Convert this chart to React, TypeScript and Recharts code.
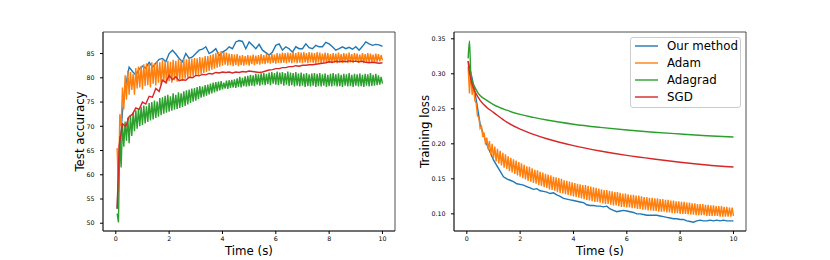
import { LineChart, Line, XAxis, YAxis, ReferenceArea } from 'recharts'

const BLUE = '#1f77b4'
const ORANGE = '#ff7f0e'
const GREEN = '#2ca02c'
const RED = '#d62728'
const FONT = 'DejaVu Sans'

const legendNames = ['Our method', 'Adam', 'Adagrad', 'SGD']
const legendColors = [BLUE, ORANGE, GREEN, RED]

const timeTicks = [0, 2, 4, 6, 8, 10]
const accTicks = [50, 55, 60, 65, 70, 75, 80, 85]
const lossTicks = [0.1, 0.15, 0.2, 0.25, 0.3, 0.35]

// sampling grids (seconds)
const fineT = Array.from({ length: 200 }, (_, i) => (i + 1) * 0.05)
const coarseT = [0.05, ...Array.from({ length: 80 }, (_, i) => (i + 1) * 0.125)]
const lossT = [0.05, 0.1, 0.15, 0.2, 0.3, 0.4, 0.5, 0.75, 1, 1.5, 2, 2.5, 3, 4, 5, 6, 7, 8, 9, 10]

// ---- test accuracy ----
const oursAcc = [
  53.0, 63.0, 73.0, 78.5, 82.2, 81.3, 80.6, 81.8, 82.4, 82.0,
  83.2, 82.2, 83.0, 83.8, 84.0, 83.3, 85.0, 85.7, 84.9, 84.0,
  83.3, 85.0, 84.0, 84.3, 85.0, 85.7, 85.9, 86.4, 85.0, 85.4,
  86.0, 84.6, 85.3, 85.7, 86.4, 86.0, 87.4, 87.7, 87.5, 86.0,
  87.4, 86.7, 86.0, 86.9, 85.7, 85.2, 84.7, 85.3, 86.7, 87.0,
  85.7, 86.4, 86.0, 85.3, 86.4, 86.0, 86.0, 87.0, 86.2, 86.0,
  86.7, 86.4, 86.4, 87.3, 87.0, 86.4, 85.7, 86.0, 86.4, 86.0,
  86.3, 85.9, 86.4, 85.7, 86.5, 87.4, 87.0, 86.7, 86.9, 86.8,
  86.5,
]
const sgdAcc = [
  53.0, 66.0, 70.5, 70.0, 72.0, 72.5, 73.8, 73.5, 75.0, 74.6,
  76.2, 76.0, 77.8, 77.2, 79.5, 79.0, 80.5, 79.6, 80.2, 79.4,
  79.6, 79.5, 80.1, 80.0, 80.5, 80.4, 80.7, 80.6, 80.9, 80.8,
  81.1, 81.0, 81.2, 81.1, 81.2, 81.0, 81.2, 81.1, 81.3, 81.2,
  81.4, 81.3, 81.2, 81.1, 81.2, 81.4, 81.6, 81.7, 81.9, 81.9,
  82.1, 82.1, 82.3, 82.3, 82.5, 82.4, 82.6, 82.6, 82.7, 82.7,
  82.8, 82.9, 83.0, 83.1, 83.3, 83.2, 83.4, 83.3, 83.4, 83.3,
  83.5, 83.4, 83.4, 83.3, 83.4, 83.2, 83.1, 83.2, 83.1, 83.0,
  83.1,
]
const adamAccPeaks = [
  65.5, 72.5, 78.0, 80.5, 81.5, 81.2, 80.8, 82.0, 82.3, 82.5,
  82.8, 83.0, 82.9, 83.2, 83.0, 83.4, 83.2, 83.6, 83.4, 83.5,
  83.3, 83.7, 83.5, 83.8, 83.6, 83.9, 83.8, 84.0, 83.9, 84.1,
  84.0, 84.3, 84.2, 84.5, 84.5, 84.7, 84.9, 85.1, 85.3, 85.5,
  85.3, 85.2, 85.0, 84.9, 84.8, 84.9, 84.6, 84.7, 84.5, 84.7,
  84.6, 84.8, 84.6, 84.7, 84.9, 84.7, 84.9, 84.8, 85.0, 84.8,
  85.1, 85.0, 85.2, 85.1, 85.2, 85.1, 85.3, 85.1, 85.3, 85.2,
  85.3, 85.1, 85.3, 85.2, 85.1, 85.3, 85.2, 85.0, 85.2, 85.1,
  84.9, 85.1, 85.0, 85.2, 84.9, 85.1, 85.0, 85.2, 84.9, 85.1,
  85.0, 84.8, 85.1, 84.9, 85.1, 85.0, 84.8, 85.0, 84.9, 84.7,
]
const adamAccDips = [
  56.5, 70.0, 73.5, 75.5, 76.5, 77.5, 76.5, 77.8, 78.0, 77.6,
  78.3, 78.5, 78.0, 78.8, 78.4, 79.0, 78.6, 79.2, 78.8, 79.3,
  79.0, 79.5, 79.2, 79.6, 79.4, 79.8, 80.0, 80.1, 80.3, 80.4,
  80.6, 80.8, 81.0, 81.2, 81.4, 81.7, 81.9, 82.1, 82.3, 82.5,
  82.7, 82.5, 82.6, 82.4, 82.6, 82.4, 82.6, 82.5, 82.7, 82.5,
  82.8, 82.6, 82.8, 82.7, 82.9, 82.8, 83.0, 82.9, 83.1, 82.9,
  83.1, 83.0, 83.1, 83.0, 83.2, 83.0, 83.2, 83.0, 83.1, 83.0,
  83.2, 83.0, 83.2, 83.1, 82.9, 83.1, 83.0, 83.2, 83.0, 83.1,
  83.0, 83.2, 83.0, 83.2, 83.1, 83.3, 83.0, 83.2, 83.1, 83.3,
  83.1, 83.3, 83.0, 83.2, 83.1, 83.3, 83.1, 83.3, 83.4, 83.6,
]
const adagradAccPeaks = [
  52.0, 68.0, 70.5, 71.0, 71.8, 72.2, 72.8, 73.3, 73.6, 74.0,
  74.3, 74.1, 74.8, 75.0, 75.3, 75.1, 75.8, 76.0, 76.3, 76.5,
  76.2, 76.8, 76.5, 77.0, 76.8, 77.2, 77.4, 77.6, 77.8, 77.9,
  78.1, 78.3, 78.2, 78.5, 78.6, 78.8, 79.0, 79.1, 79.2, 79.3,
  79.0, 79.4, 79.5, 79.6, 79.7, 79.9, 80.2, 80.0, 80.3, 80.4,
  80.6, 80.5, 80.8, 80.7, 80.9, 81.0, 80.8, 81.1, 81.2, 81.0,
  81.3, 81.1, 81.2, 81.0, 81.3, 81.1, 81.0, 81.2, 80.9, 81.1,
  80.8, 81.0, 80.7, 80.9, 81.0, 80.8, 81.0, 80.7, 80.9, 80.6,
  80.8, 81.0, 80.7, 80.9, 80.6, 80.8, 80.7, 81.0, 80.6, 80.8,
  80.7, 80.9, 80.6, 80.8, 80.7, 81.0, 80.6, 80.8, 80.5, 80.2,
]
const adagradAccDips = [
  50.2, 61.5, 65.8, 67.0, 66.5, 68.0, 69.0, 69.5, 70.0, 70.3,
  70.6, 70.9, 71.2, 71.4, 71.7, 72.0, 72.3, 72.6, 72.8, 73.0,
  73.2, 73.4, 73.6, 73.8, 74.0, 74.2, 74.5, 74.8, 75.1, 75.3,
  75.6, 75.9, 76.1, 76.3, 76.6, 76.8, 77.0, 77.2, 77.4, 77.6,
  77.8, 77.7, 77.9, 78.0, 77.9, 78.1, 78.0, 78.3, 78.2, 78.3,
  78.4, 78.3, 78.6, 78.4, 78.6, 78.5, 78.7, 78.5, 78.8, 78.6,
  78.5, 78.7, 78.4, 78.6, 78.3, 78.5, 78.2, 78.4, 78.2, 78.4,
  78.1, 78.3, 78.2, 78.4, 78.1, 78.3, 78.2, 78.4, 78.1, 78.3,
  78.2, 78.4, 78.2, 78.3, 78.1, 78.4, 78.2, 78.3, 78.1, 78.4,
  78.2, 78.3, 78.1, 78.4, 78.2, 78.3, 78.4, 78.5, 78.6, 78.8,
]

// ---- training loss ----
const oursLoss = [
  0.318, 0.306, 0.285, 0.258, 0.228, 0.213, 0.199, 0.188, 0.177, 0.169,
  0.161, 0.153, 0.150, 0.148, 0.146, 0.143, 0.142, 0.141, 0.139, 0.137,
  0.135, 0.136, 0.133, 0.132, 0.131, 0.129, 0.130, 0.127, 0.125, 0.122,
  0.121, 0.120, 0.119, 0.118, 0.117, 0.116, 0.113, 0.112, 0.112, 0.111,
  0.111, 0.110, 0.111, 0.107, 0.105, 0.103, 0.104, 0.105, 0.104, 0.103,
  0.102, 0.100, 0.100, 0.099, 0.098, 0.098, 0.098, 0.098, 0.097, 0.096,
  0.095, 0.094, 0.093, 0.093, 0.092, 0.092, 0.090, 0.089, 0.088, 0.090,
  0.091, 0.090, 0.090, 0.091, 0.090, 0.091, 0.090, 0.091, 0.090, 0.090,
  0.090,
]
const adamLossPeaks = [
  0.310, 0.302, 0.285, 0.258, 0.238, 0.225, 0.216, 0.209, 0.204, 0.200,
  0.196, 0.193, 0.190, 0.187, 0.185, 0.182, 0.180, 0.178, 0.176, 0.174,
  0.172, 0.170, 0.168, 0.167, 0.165, 0.163, 0.162, 0.160, 0.159, 0.157,
  0.156, 0.155, 0.153, 0.152, 0.151, 0.150, 0.148, 0.147, 0.146, 0.145,
  0.144, 0.143, 0.142, 0.141, 0.141, 0.140, 0.139, 0.138, 0.137, 0.136,
  0.135, 0.134, 0.134, 0.133, 0.132, 0.131, 0.131, 0.130, 0.129, 0.129,
  0.128, 0.127, 0.127, 0.126, 0.126, 0.125, 0.124, 0.124, 0.123, 0.123,
  0.122, 0.122, 0.121, 0.121, 0.120, 0.120, 0.119, 0.119, 0.118, 0.118,
  0.117, 0.117, 0.116, 0.116, 0.115, 0.115, 0.114, 0.114, 0.114, 0.113,
  0.113, 0.112, 0.112, 0.111, 0.111, 0.111, 0.110, 0.110, 0.109, 0.109,
]
const adamLossDips = [
  0.272, 0.270, 0.262, 0.240, 0.222, 0.210, 0.199, 0.192, 0.184, 0.179,
  0.175, 0.172, 0.169, 0.166, 0.164, 0.161, 0.159, 0.157, 0.155, 0.153,
  0.151, 0.149, 0.147, 0.146, 0.144, 0.143, 0.141, 0.140, 0.138, 0.137,
  0.135, 0.134, 0.133, 0.131, 0.130, 0.129, 0.128, 0.127, 0.126, 0.125,
  0.124, 0.123, 0.122, 0.121, 0.120, 0.119, 0.118, 0.117, 0.117, 0.116,
  0.115, 0.114, 0.114, 0.113, 0.112, 0.112, 0.111, 0.110, 0.110, 0.109,
  0.109, 0.108, 0.108, 0.107, 0.107, 0.106, 0.106, 0.105, 0.105, 0.104,
  0.104, 0.103, 0.103, 0.103, 0.102, 0.102, 0.101, 0.101, 0.101, 0.100,
  0.100, 0.100, 0.099, 0.099, 0.099, 0.098, 0.098, 0.098, 0.098, 0.097,
  0.097, 0.097, 0.097, 0.097, 0.096, 0.096, 0.096, 0.096, 0.096, 0.097,
]
const adagradLoss = [0.322, 0.347, 0.300, 0.290, 0.281, 0.274, 0.269, 0.262, 0.256, 0.248, 0.242, 0.2378, 0.234, 0.228, 0.2235, 0.2197, 0.2166, 0.214, 0.2116, 0.2097]
const sgdLoss = [0.318, 0.302, 0.292, 0.285, 0.275, 0.268, 0.262, 0.252, 0.245, 0.231, 0.221, 0.2135, 0.2073, 0.1975, 0.1898, 0.1835, 0.1783, 0.1737, 0.1698, 0.1668]

const series = (ts: number[], vs: number[]) => vs.map((v, i) => ({ t: ts[i], v }))
const zigzag = (peaks: number[], dips: number[]) =>
  peaks.flatMap((p, k) => [
    { t: fineT[2 * k], v: p },
    { t: fineT[2 * k + 1], v: dips[k] },
  ])

const accData = {
  ours: series(coarseT, oursAcc),
  adam: zigzag(adamAccPeaks, adamAccDips),
  adagrad: zigzag(adagradAccPeaks, adagradAccDips),
  sgd: series(coarseT, sgdAcc),
}
const lossData = {
  ours: series(coarseT, oursLoss),
  adam: zigzag(adamLossPeaks, adamLossDips),
  adagrad: series(lossT, adagradLoss),
  sgd: series(lossT, sgdLoss),
}

const X_DOMAIN: [number, number] = [-0.48, 10.47]
const ACC_DOMAIN: [number, number] = [48.4, 89.45]
const LOSS_DOMAIN: [number, number] = [0.0755, 0.3597]
const tickStyle = { fontSize: 6.3, fill: '#000', fontFamily: FONT }
const spine = { stroke: '#222', strokeWidth: 0.8 }

const yTitle = (text: string, x: number) => () => (
  <text x={x} y={131.5} transform={`rotate(-90 ${x} 131.5)`} textAnchor="middle"
    fontSize={11.8} fontFamily={FONT} fill="#000">{text}</text>
)
const xTitle = (x: number) => () => (
  <text x={x} y={254.5} textAnchor="middle" fontSize={11.8} fontFamily={FONT} fill="#000">Time (s)</text>
)

function Legend() {
  return (
    <div style={{
      position: 'absolute', left: 630, top: 37, width: 111, height: 71, boxSizing: 'border-box',
      border: '1px solid #cccccc', borderRadius: 3, background: 'rgba(255,255,255,0.8)',
    }}>
      {legendNames.map((name, i) => (
        <div key={name} style={{ position: 'absolute', left: 4, top: i * 17.1, height: 16, display: 'flex', alignItems: 'center' }}>
          <svg width={23} height={4} style={{ display: 'block' }}>
            <line x1={0} x2={23} y1={2} y2={2} stroke={legendColors[i]} strokeWidth={1.4} />
          </svg>
          <span style={{ marginLeft: 9, fontSize: 11.8, fontFamily: FONT, lineHeight: '16px', color: '#000', whiteSpace: 'nowrap' }}>{name}</span>
        </div>
      ))}
    </div>
  )
}

export default function App() {
  const lineProps = { dataKey: 'v', dot: false, strokeWidth: 1.4, isAnimationActive: false, activeDot: false } as const
  return (
    <div style={{ position: 'absolute', left: 0, top: 0, width: 830, height: 260, background: '#fff', overflow: 'hidden' }}>
      <div style={{ position: 'absolute', left: 0, top: 0 }}>
        <LineChart width={410} height={260} margin={{ top: 32, right: 15, bottom: 0, left: 0 }}>
          <XAxis type="number" dataKey="t" domain={X_DOMAIN} allowDataOverflow ticks={timeTicks}
            height={29} tick={tickStyle} tickSize={3} tickMargin={2.7} axisLine={spine} tickLine={{ stroke: '#000' }}
            label={{ content: xTitle(249) }} />
          <YAxis type="number" domain={ACC_DOMAIN} allowDataOverflow ticks={accTicks} width={103}
            tick={tickStyle} tickSize={3} tickMargin={5.5} axisLine={spine} tickLine={{ stroke: '#000' }}
            label={{ content: yTitle('Test accuracy', 84) }} />
          <Line {...lineProps} data={accData.ours} stroke={BLUE} type="linear" />
          <Line {...lineProps} data={accData.adam} stroke={ORANGE} type="linear" />
          <Line {...lineProps} data={accData.adagrad} stroke={GREEN} type="linear" />
          <Line {...lineProps} data={accData.sgd} stroke={RED} type="linear" />
          <ReferenceArea x1={X_DOMAIN[0]} x2={X_DOMAIN[1]} y1={ACC_DOMAIN[0]} y2={ACC_DOMAIN[1]}
            fill="none" fillOpacity={0} stroke="#222" strokeWidth={0.8} strokeOpacity={1} ifOverflow="visible" />
        </LineChart>
      </div>
      <div style={{ position: 'absolute', left: 410, top: 0 }}>
        <LineChart width={420} height={260} margin={{ top: 32, right: 84, bottom: 0, left: 0 }}>
          <XAxis type="number" dataKey="t" domain={X_DOMAIN} allowDataOverflow ticks={timeTicks}
            height={29} tick={tickStyle} tickSize={3} tickMargin={2.7} axisLine={spine} tickLine={{ stroke: '#000' }}
            label={{ content: xTitle(190) }} />
          <YAxis type="number" domain={LOSS_DOMAIN} allowDataOverflow ticks={lossTicks} width={44}
            tick={tickStyle} tickSize={3} tickMargin={5.5} axisLine={spine} tickLine={{ stroke: '#000' }}
            tickFormatter={(v: number) => v.toFixed(2)}
            label={{ content: yTitle('Training loss', 19) }} />
          <Line {...lineProps} data={lossData.ours} stroke={BLUE} type="linear" />
          <Line {...lineProps} data={lossData.adam} stroke={ORANGE} type="linear" />
          <Line {...lineProps} data={lossData.adagrad} stroke={GREEN} type="monotone" />
          <Line {...lineProps} data={lossData.sgd} stroke={RED} type="monotone" />
          <ReferenceArea x1={X_DOMAIN[0]} x2={X_DOMAIN[1]} y1={LOSS_DOMAIN[0]} y2={LOSS_DOMAIN[1]}
            fill="none" fillOpacity={0} stroke="#222" strokeWidth={0.8} strokeOpacity={1} ifOverflow="visible" />
        </LineChart>
      </div>
      <Legend />
    </div>
  )
}
